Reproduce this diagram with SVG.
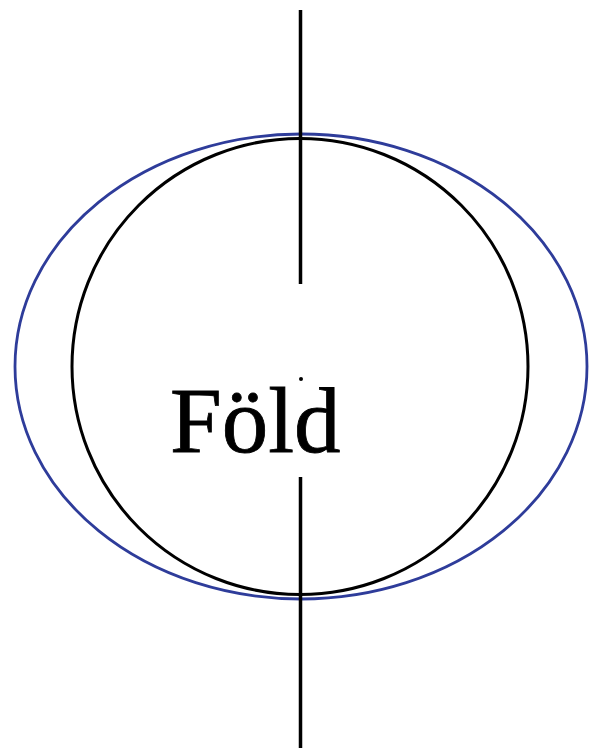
<svg xmlns="http://www.w3.org/2000/svg" width="589" height="751" viewBox="0 0 589 751">
<style>
.ax{stroke:#000;stroke-width:3.5;fill:none}
.lbl{font-family:"Liberation Serif","Times New Roman",serif;font-size:93px;fill:#000;stroke:#000;stroke-width:0.8}
</style>
<rect width="589" height="751" fill="#fff"/>
<g id="orbit">
<ellipse cx="301" cy="366.5" rx="286" ry="232.5" fill="none" stroke="#2e3c9a" stroke-width="2.8"/>
</g>
<g id="earth">
<circle cx="300" cy="366.5" r="228" fill="none" stroke="#000" stroke-width="3"/>
<text class="lbl" x="170" y="452">Föld</text>
<circle cx="301" cy="379" r="2" fill="#000"/>
</g>
<g id="connectors">
<line class="ax" x1="300.5" y1="10" x2="300.5" y2="284"/>
<line class="ax" x1="300.5" y1="477" x2="300.5" y2="748"/>
</g>
</svg>
